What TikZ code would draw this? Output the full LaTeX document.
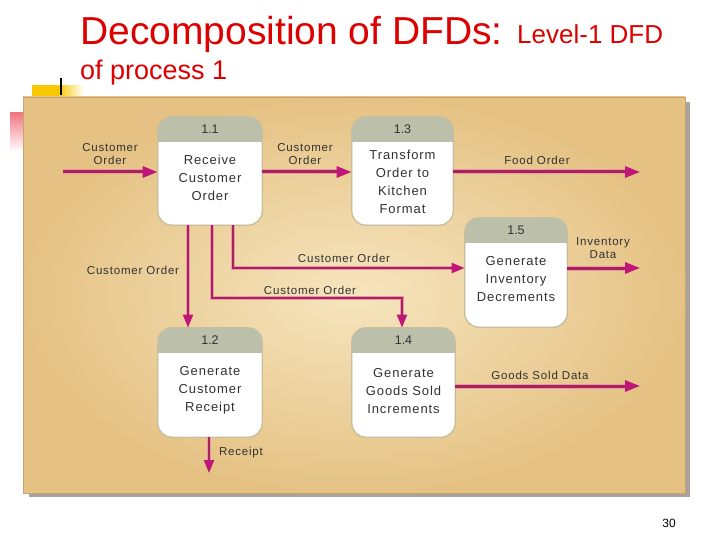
\documentclass[tikz,border=0pt]{standalone}
\usepackage{fontspec}
\setmainfont{Liberation Sans}
\newfontfamily\dfont[LetterSpace=7]{Liberation Sans}
\usetikzlibrary{arrows.meta,calc}
\definecolor{titlered}{RGB}{220,0,0}
\definecolor{panelin}{RGB}{246,229,190}
\definecolor{panelout}{RGB}{229,194,132}
\definecolor{paneledge}{RGB}{200,165,110}
\definecolor{shadowc}{RGB}{170,163,155}
\definecolor{hdrc}{RGB}{188,192,170}
\definecolor{boxedgec}{RGB}{200,190,158}
\definecolor{flowc}{RGB}{165,38,85}
\definecolor{flowhalo}{RGB}{236,150,178}
\definecolor{tipc}{RGB}{192,22,122}
\definecolor{txtc}{RGB}{50,50,50}
\definecolor{decoyellow}{RGB}{248,200,0}
\definecolor{decopink}{RGB}{240,120,130}
\tikzset{
  procbox/.style={draw=boxedgec, line width=0.8pt, fill=white, rounded corners=14pt, inner sep=0pt},
  boxedge/.style={draw=boxedgec, line width=0.8pt},
  numtext/.style={text=txtc, font={\fontsize{12.5}{14}\selectfont}},
  ptext/.style={text=txtc, align=center, font={\dfont\fontsize{13}{18}\selectfont}},
  lab/.style={text=txtc, align=center, font={\dfont\fontsize{11.5}{13.5}\selectfont}},
  flow/.style={draw=flowc, line width=3pt,
    preaction={draw=flowhalo, line width=5pt, arrows=-, shorten >=8pt},
    -{Triangle[length=15pt,width=11pt,color=tipc,fill=tipc]}},
  flowv/.style={draw=flowc, line width=2.2pt,
    preaction={draw=flowhalo, line width=4.4pt, arrows=-, shorten >=7pt},
    -{Triangle[length=13pt,width=10pt,color=tipc,fill=tipc]}},
}
\newcommand\dfdproc[6]{%
  \node[procbox, minimum width=#4pt, minimum height=#5pt] (#1) at (#2,#3) {};
  \begin{scope}
    \clip[rounded corners=14pt] (#1.north west) rectangle (#1.south east);
    \fill[hdrc] (#1.north west) rectangle ($(#1.north east)+(0,25)$);
  \end{scope}
  \draw[boxedge, rounded corners=14pt] (#1.north west) rectangle (#1.south east);
  \node[numtext] (#1n) at ($(#1.north)+(0,12.5)$) {#6};
}
\begin{document}
\begin{tikzpicture}[x=1pt,y=-1pt]
\useasboundingbox[fill=white] (0,0) rectangle (720,540);

% title
\node[anchor=base west, inner sep=0pt, text=titlered, font={\fontsize{39}{44}\selectfont}] (title) at (80,45) {Decomposition of DFDs:};
\node[anchor=base west, inner sep=0pt, text=titlered, font={\fontsize{26}{30}\selectfont}] (title2) at (517,44) {Level-1 DFD};
\node[anchor=base west, inner sep=0pt, text=titlered, font={\fontsize{27}{30}\selectfont}] (title3) at (80,80) {of process 1};

% decorations
\shade[left color=decoyellow, right color=white, middle color=decoyellow] (32,86) rectangle (84,98);
\shade[top color=decopink, bottom color=white] (10,113) rectangle (28,152);
\draw[black, line width=1.6pt] (61,78) -- (61,95);

% panel
\fill[shadowc] (29,102) rectangle (690,497);
\shade[inner color=panelin, outer color=panelout] (23,97) rectangle (685,493);
\draw[paneledge, line width=0.6pt] (23,97) rectangle (685,493);

% processes
\dfdproc{p11}{210}{171}{104}{108}{1.1}
\dfdproc{p13}{402.5}{171}{101}{108}{1.3}
\dfdproc{p15}{516}{272.5}{102}{109}{1.5}
\dfdproc{p12}{210}{382.5}{104}{109}{1.2}
\dfdproc{p14}{403.5}{382.5}{103}{109}{1.4}

\node[ptext] (p11t) at (210,178) {Receive\\Customer\\Order};
\node[ptext] (p13t) at (402.5,182) {Transform\\Order to\\Kitchen\\Format};
\node[ptext] (p15t) at (516,279) {Generate\\Inventory\\Decrements};
\node[ptext] (p12t) at (210,390) {Generate\\Customer\\Receipt};
\node[ptext] (p14t) at (403.5,391) {Generate\\Goods Sold\\Increments};

% coordinates
\coordinate (in1) at (63,172);
\coordinate (o1) at (640,172);
\coordinate (o2) at (640,268);
\coordinate (o3) at (640,386);
\coordinate (b1) at (233,268);
\coordinate (b2) at (212,298);
\coordinate (b3) at (402,298);
\coordinate (b4) at (188,300);
\coordinate (r1) at (209,473);

% flows
\draw[flow] (in1) -- (in1 -| p11.west);
\draw[flow] (in1 -| p11.east) -- (in1 -| p13.west);
\draw[flow] (o1 -| p13.east) -- (o1);
\draw[flow] (o2 -| p15.east) -- (o2);
\draw[flow] (o3 -| p14.east) -- (o3);
\draw[flowv] (b1 |- p11.south) -- (b1) -- (b1 -| p15.west);
\draw[flowv] (b2 |- p11.south) -- (b2) -- (b3) -- (b3 |- p14.north);
\draw[flowv] (b4 |- p11.south) -- (b4 |- p12.north);
\draw[flowv] (r1 |- p12.south) -- (r1);

% labels
\node[lab] (l1) at (110,154) {Customer\\Order};
\node[lab] (l2) at (305,154) {Customer\\Order};
\node[lab] (l3) at (537,160) {Food Order};
\node[lab] (l4) at (603,248) {Inventory\\Data};
\node[lab] (l5) at (344,258) {Customer Order};
\node[lab] (l6) at (310,290) {Customer Order};
\node[lab] (l7) at (133,270) {Customer Order};
\node[lab] (l8) at (241,453) {Receipt};
\node[lab] (l9) at (540,375) {Goods Sold Data};

% page number
\node[font={\fontsize{12}{14}\selectfont}] (pg) at (669,523) {30};
\end{tikzpicture}
\end{document}
